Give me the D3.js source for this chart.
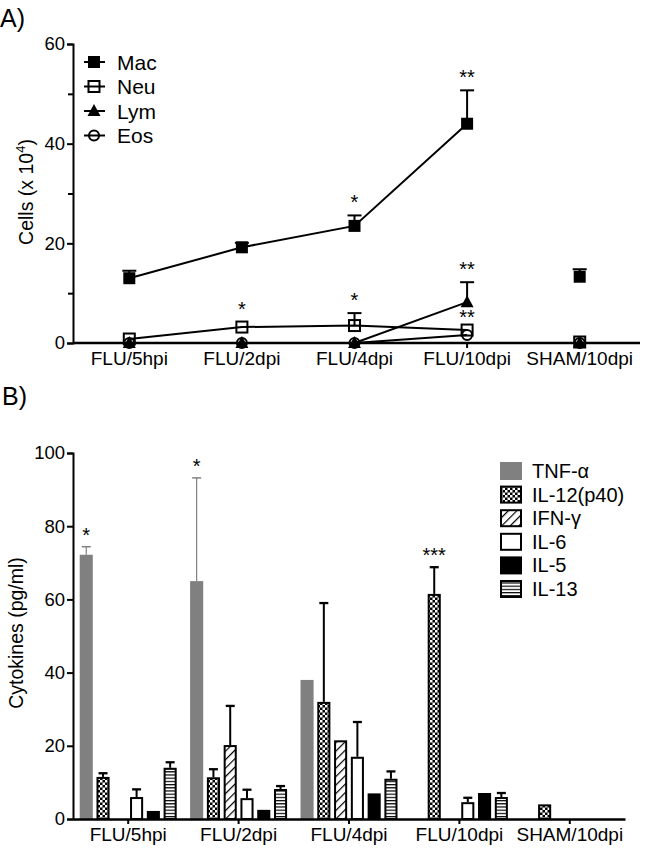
<!DOCTYPE html>
<html><head><meta charset="utf-8">
<script src="https://cdn.jsdelivr.net/npm/d3@7"></script>
<style>body{margin:0;background:#fff}svg{display:block}text{font-family:"Liberation Sans",Arial,sans-serif;fill:#000}</style>
</head><body>
<script>
// ---------- DATA ----------
const categories = ["FLU/5hpi","FLU/2dpi","FLU/4dpi","FLU/10dpi","SHAM/10dpi"];
// Panel A (cells x 10^4)
const cellSeries = ["Mac","Neu","Lym","Eos"];
const macMean = [13.0, 19.2, 23.5, 44.0, 13.3];
const macErr  = [1.5, 0.9, 2.1, 6.7, 1.5];
const neuMean = [0.8, 3.2, 3.5, 2.6, 0.2];
const neuErr  = [0, 0, 2.5, 0, 0];
const lymMean = [0, 0, 0, 8.2, 0];
const lymErr  = [0, 0, 0, 4.0, 0];
const eosMean = [0, 0, 0, 1.6, 0];
const eosErr  = [0, 0, 0, 0, 0];
const cellTicks = [0, 20, 40, 60];
const cellMinorTicks = [10, 30, 50];
const starsA = [ // [categoryIndex, series, label]
  [2, "Mac", "*"], [3, "Mac", "**"], [1, "Neu", "*"], [2, "Neu", "*"],
  [3, "Lym", "**"], [3, "Eos", "**"]
];
// Panel B (cytokines pg/ml)
const cytokines = ["TNF-α","IL-12(p40)","IFN-γ","IL-6","IL-5","IL-13"];
const tnfMean  = [72.2, 65.0, 38.0, 0, 0];
const tnfErr   = [2.2, 28.2, 0, 0, 0];
const il12Mean = [11.5, 11.4, 32.0, 61.5, 4.0];
const il12Err  = [1.0, 2.2, 27.0, 7.3, 0];
const ifnMean  = [0, 20.2, 21.5, 0, 0];
const ifnErr   = [0, 10.7, 0, 0, 0];
const il6Mean  = [6.0, 5.7, 17.0, 4.6, 0];
const il6Err   = [2.1, 2.3, 9.5, 1.2, 0];
const il5Mean  = [2.2, 2.5, 7.0, 7.1, 0];
const il5Err   = [0, 0, 0, 0, 0];
const il13Mean = [14.0, 8.2, 11.0, 6.0, 0];
const il13Err  = [1.5, 0.8, 2.0, 1.1, 0];
const cytoTicks = [0, 20, 40, 60, 80, 100];
const starsB = [ // [categoryIndex, cytokineIndex, label]
  [0, 0, "*"], [1, 0, "*"], [3, 1, "***"]
];

// ---------- SETUP ----------
const W = 650, H = 860;
const svg = d3.select("body").append("svg").attr("width", W).attr("height", H);
const defs = svg.append("defs");
const chk = defs.append("pattern").attr("id","chk").attr("patternUnits","userSpaceOnUse").attr("width",5).attr("height",5);
chk.append("rect").attr("width",5).attr("height",5).attr("fill","#000");
chk.append("rect").attr("width",2.5).attr("height",2.5).attr("fill","#fff");
chk.append("rect").attr("x",2.5).attr("y",2.5).attr("width",2.5).attr("height",2.5).attr("fill","#fff");
const hat = defs.append("pattern").attr("id","hatch").attr("patternUnits","userSpaceOnUse").attr("width",6).attr("height",6)
  .attr("patternTransform","rotate(45)");
hat.append("rect").attr("width",6).attr("height",6).attr("fill","#fff");
hat.append("line").attr("x1",0).attr("y1",0).attr("x2",0).attr("y2",6).attr("stroke","#000").attr("stroke-width",2.4);
const hor = defs.append("pattern").attr("id","horiz").attr("patternUnits","userSpaceOnUse").attr("width",4).attr("height",3.2);
hor.append("rect").attr("width",4).attr("height",3.2).attr("fill","#fff");
hor.append("line").attr("x1",0).attr("y1",0.6).attr("x2",4).attr("y2",0.6).attr("stroke","#000").attr("stroke-width",1.2);

const fills = ["#808080","url(#chk)","url(#hatch)","#fff","#000","url(#horiz)"];
const FONT = "Liberation Sans, Arial";

// ---------- PANEL A ----------
svg.append("text").attr("x",0).attr("y",27).attr("font-size",25).text("A)");
const xA = d3.scaleBand().domain(categories).range([73, 636]);
const yA = d3.scaleLinear().domain([0, 60]).range([343, 44]);
const gA = svg.append("g");

gA.append("g").attr("transform","translate(73,0)").call(d3.axisLeft(yA).tickValues(cellTicks).tickSize(6).tickPadding(2))
  .call(g=>{g.selectAll("text").attr("font-size",18.5).attr("font-family",FONT);g.select(".domain").attr("stroke-width",2);g.selectAll(".tick line").attr("stroke-width",2);});
gA.append("g").attr("transform","translate(73,0)").call(d3.axisLeft(yA).tickValues(cellMinorTicks).tickSize(5).tickFormat(""))
  .call(g=>{g.select(".domain").remove();g.selectAll(".tick line").attr("stroke-width",2);});
gA.append("g").attr("transform","translate(0,343)").call(d3.axisBottom(xA).tickSize(5).tickPadding(4).tickSizeOuter(0))
  .call(g=>{g.selectAll("text").attr("font-size",19).attr("font-family",FONT);g.select(".domain").attr("stroke-width",2.5).attr("d","M73,0H640");g.selectAll(".tick line").attr("stroke-width",2);});

const seriesA = {
  Mac: {mean: macMean, err: macErr, marker: "sqFill"},
  Neu: {mean: neuMean, err: neuErr, marker: "sqOpen"},
  Lym: {mean: lymMean, err: lymErr, marker: "tri"},
  Eos: {mean: eosMean, err: eosErr, marker: "circ"}
};
const cx = i => xA(categories[i]) + xA.bandwidth()/2;
const line = d3.line().x((d,i)=>cx(i)).y(d=>yA(d));

function drawMarker(g, type, x, y){
  if(type==="sqFill") g.append("rect").attr("x",x-6).attr("y",y-6).attr("width",12).attr("height",12).attr("fill","#000");
  else if(type==="sqOpen") g.append("rect").attr("x",x-5.5).attr("y",y-5.5).attr("width",11).attr("height",11).attr("fill","none").attr("stroke","#000").attr("stroke-width",2);
  else if(type==="tri") g.append("path").attr("d",`M${x},${y-7}L${x+6.5},${y+5}L${x-6.5},${y+5}Z`).attr("fill","#000");
  else g.append("circle").attr("cx",x).attr("cy",y).attr("r",5).attr("fill","none").attr("stroke","#000").attr("stroke-width",2);
}

const order = ["Neu","Eos","Lym","Mac"];
order.forEach(s=>{
  gA.append("path").datum(seriesA[s].mean.slice(0,4)).attr("d",line).attr("fill","none").attr("stroke","#000").attr("stroke-width",2);
});
order.forEach(s=>{
  seriesA[s].mean.forEach((m,i)=>{
    const e = seriesA[s].err[i];
    if(e>0){
      const x = cx(i);
      gA.append("line").attr("x1",x).attr("x2",x).attr("y1",yA(m)).attr("y2",yA(m+e)).attr("stroke","#000").attr("stroke-width",2);
      gA.append("line").attr("x1",x-7).attr("x2",x+7).attr("y1",yA(m+e)).attr("y2",yA(m+e)).attr("stroke","#000").attr("stroke-width",2);
    }
  });
});
order.forEach(s=>{
  seriesA[s].mean.forEach((m,i)=>drawMarker(gA, seriesA[s].marker, cx(i), yA(m)));
});
starsA.forEach(([i,s,lab])=>{
  const e = seriesA[s].err[i];
  const top = seriesA[s].mean[i] + e;
  gA.append("text").attr("x",cx(i)).attr("y",yA(top)-(e>0?6.5:11)).attr("text-anchor","middle").attr("font-size",20).text(lab);
});
svg.append("text").attr("transform","translate(33,192) rotate(-90)").attr("text-anchor","middle").attr("font-size",19.5)
  .call(t=>{t.append("tspan").text("Cells (x 10");t.append("tspan").attr("dy",-8).attr("font-size",13).text("4");t.append("tspan").attr("dy",8).text(")");});
cellSeries.forEach((s,k)=>{
  const y = 62 + k*24.5;
  const g = gA.append("g");
  g.append("line").attr("x1",84).attr("x2",105).attr("y1",y).attr("y2",y).attr("stroke","#000").attr("stroke-width",2);
  drawMarker(g, seriesA[s].marker, 94, y);
  g.append("text").attr("x",117).attr("y",y+7.5).attr("font-size",21).text(s);
});

// ---------- PANEL B ----------
svg.append("text").attr("x",2).attr("y",405).attr("font-size",25).text("B)");
const xB = d3.scaleBand().domain(categories).range([73, 625]);
const xInner = d3.scaleBand().domain(d3.range(6)).range([0, xB.bandwidth()]).paddingInner(0.22).paddingOuter(0.4);
const yB = d3.scaleLinear().domain([0, 100]).range([819, 453]);
const gB = svg.append("g");
gB.append("g").attr("transform","translate(73,0)").call(d3.axisLeft(yB).tickValues(cytoTicks).tickSize(6).tickPadding(2))
  .call(g=>{g.selectAll("text").attr("font-size",18.5).attr("font-family",FONT);g.select(".domain").attr("stroke-width",2);g.selectAll(".tick line").attr("stroke-width",2);});

const meansB = [tnfMean, il12Mean, ifnMean, il6Mean, il5Mean, il13Mean];
const errsB  = [tnfErr, il12Err, ifnErr, il6Err, il5Err, il13Err];

categories.forEach((c,i)=>{
  meansB.forEach((arr,k)=>{
    const v = arr[i];
    if(v<=0) return;
    const x0 = xB(c) + xInner(k), bw = xInner.bandwidth();
    const e = errsB[k][i];
    if(e>0){
      const xc = x0 + bw/2;
      const col = k===0 ? "#808080" : "#000", sw = k===0 ? 1.2 : 2;
      gB.append("line").attr("x1",xc).attr("x2",xc).attr("y1",yB(v)).attr("y2",yB(v+e)).attr("stroke",col).attr("stroke-width",sw);
      gB.append("line").attr("x1",xc-4.5).attr("x2",xc+4.5).attr("y1",yB(v+e)).attr("y2",yB(v+e)).attr("stroke",col).attr("stroke-width",sw+0.3);
    }
    if(k===0){
      gB.append("rect").attr("x",x0).attr("y",yB(v)).attr("width",bw).attr("height",yB(0)-yB(v)).attr("fill",fills[k]);
    } else {
      gB.append("rect").attr("x",x0+1).attr("y",yB(v)+1).attr("width",bw-2).attr("height",Math.max(0,yB(0)-yB(v)-1))
        .attr("fill",fills[k]).attr("stroke","#000").attr("stroke-width",2);
    }
  });
});
gB.append("g").attr("transform","translate(0,819)").call(d3.axisBottom(xB).tickSize(5).tickPadding(4).tickSizeOuter(0))
  .call(g=>{g.selectAll("text").attr("font-size",19).attr("font-family",FONT);g.select(".domain").attr("stroke-width",2.5);g.selectAll(".tick line").attr("stroke-width",2);});

starsB.forEach(([i,k,lab])=>{
  const xc = xB(categories[i]) + xInner(k) + xInner.bandwidth()/2;
  const top = meansB[k][i] + errsB[k][i];
  gB.append("text").attr("x",xc).attr("y",yB(top)-5).attr("text-anchor","middle").attr("font-size",20).text(lab);
});
svg.append("text").attr("transform","translate(23,633) rotate(-90)").attr("text-anchor","middle").attr("font-size",19.5).text("Cytokines (pg/ml)");

cytokines.forEach((name,k)=>{
  const y = 471 + k*23.6;
  if(k===0) gB.append("rect").attr("x",500).attr("y",y-9).attr("width",22).attr("height",18).attr("fill",fills[k]);
  else gB.append("rect").attr("x",501).attr("y",y-8).attr("width",20).attr("height",16).attr("fill",fills[k]).attr("stroke","#000").attr("stroke-width",2);
  gB.append("text").attr("x",532).attr("y",y+7).attr("font-size",20).text(name);
});
</script>
</body></html>
